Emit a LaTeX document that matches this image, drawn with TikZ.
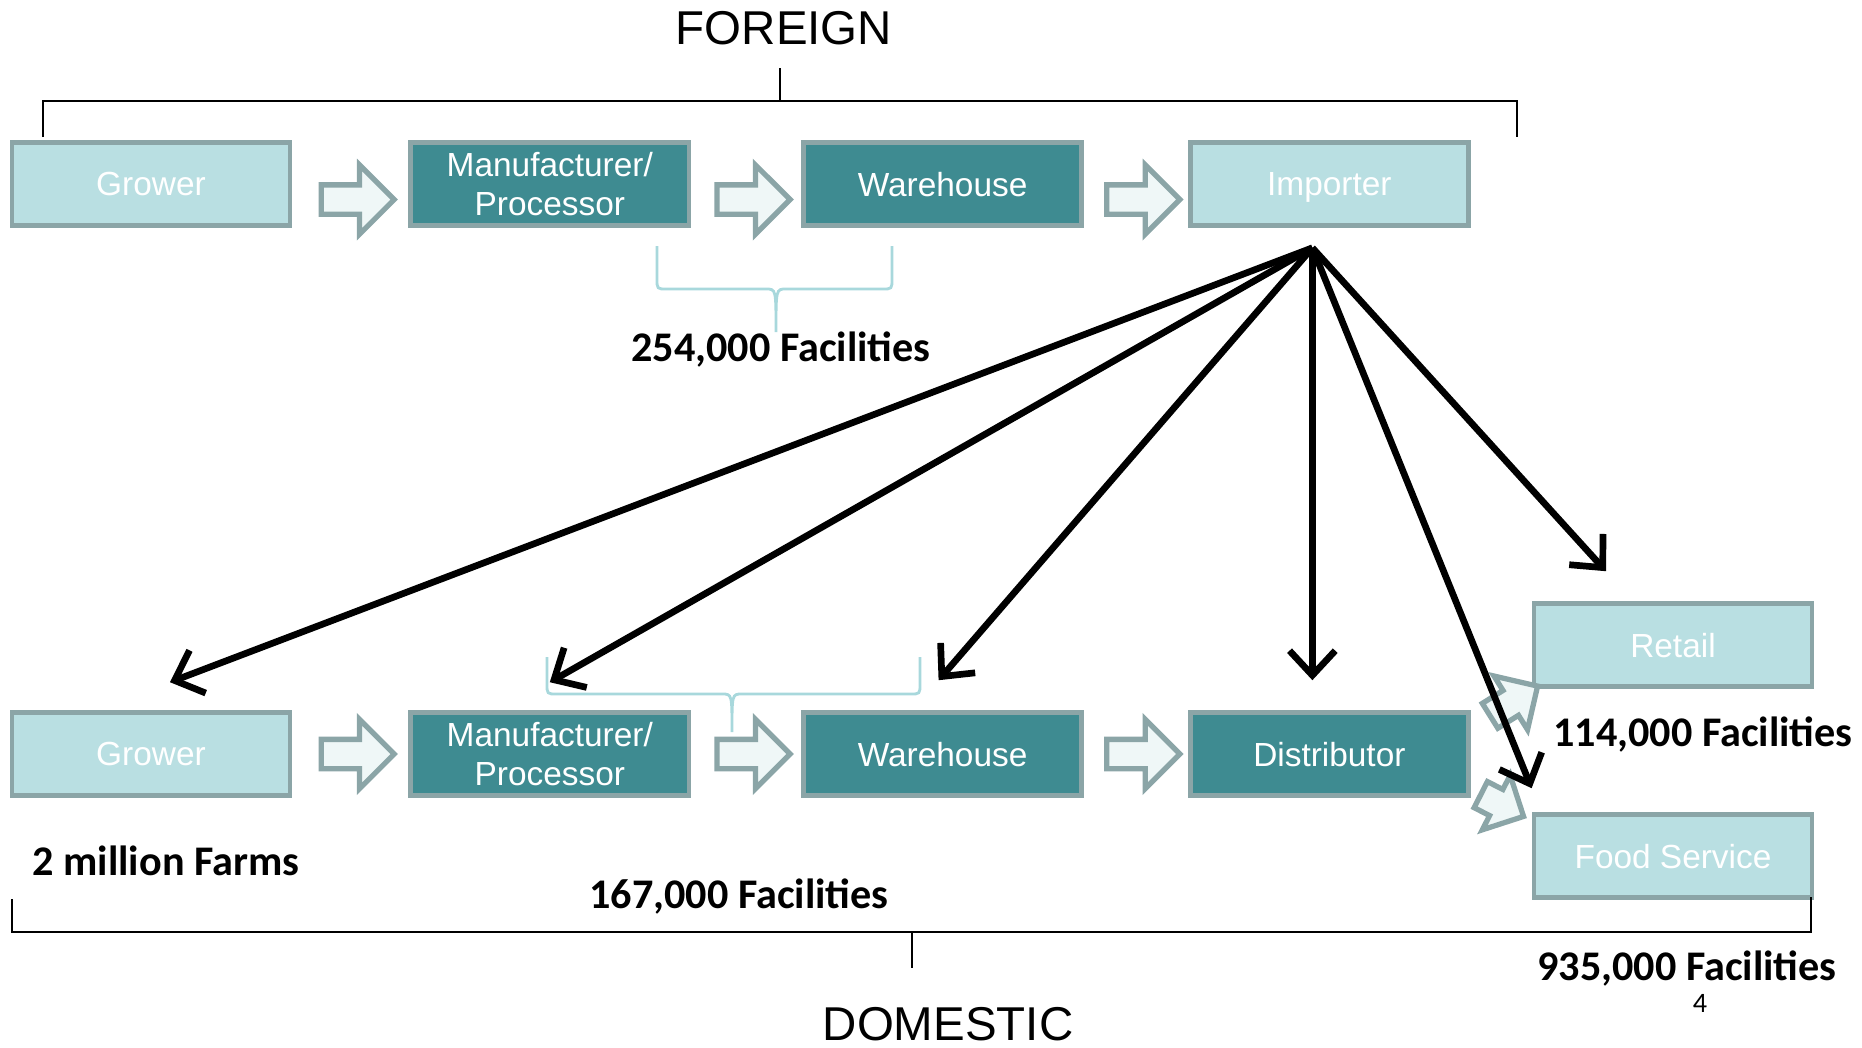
\documentclass[tikz,border=0pt]{standalone}
\usepackage{fontspec}
\setmainfont{Liberation Sans}
\newfontfamily\calibri{Carlito}
\usepackage{tikz}
\usetikzlibrary{arrows.meta,positioning,calc,shapes.arrows}
\definecolor{paleteal}{HTML}{B9DFE2}
\definecolor{deepteal}{HTML}{3E8B91}
\definecolor{rimgray}{HTML}{8BA5A7}
\definecolor{mist}{HTML}{EFF7F7}
\definecolor{bracecol}{HTML}{A8D8DC}
\tikzset{
  box/.style={rectangle, draw=rimgray, line width=1.3pt, minimum width=2.78cm, minimum height=0.83cm,
              align=center, text=white, inner sep=2pt, text depth=0pt, font=\fontsize{9.5}{11}\selectfont},
  lightbox/.style={box, fill=paleteal},
  darkbox/.style={box, fill=deepteal},
  hollow/.style={single arrow, draw=rimgray, fill=mist, line width=1.5pt, inner xsep=0pt, inner ysep=0.12cm,
                 minimum height=0.73cm, minimum width=0.66cm, single arrow head extend=0.2cm},
  feed/.style={-{Straight Barb[length=7pt,width=13pt]}, draw=black, line width=1.9pt},
  bracket/.style={draw=black, line width=0.6pt},
  curly/.style={draw=bracecol, line width=0.8pt},
  count/.style={font=\calibri\bfseries\fontsize{12}{14}\selectfont},
  side/.style={font=\fontsize{13.5}{16}\selectfont, inner sep=1pt},
}

\begin{document}
\begin{tikzpicture}[x=0.01cm, y=-0.01cm]
\useasboundingbox (0,0) rectangle (1862,1047);

\node[side] (foreign) at (784,28) {FOREIGN};
\draw[bracket] (43,137) -- (43,101) -- (1517,101) -- (1517,137);
\draw[bracket] (780,101) -- (780,68);

\node[lightbox] (grow1) at (151,184) {Grower};
\node[darkbox, right=1.16cm of grow1] (manu1) {Manufacturer/\\Processor};
\node[darkbox, right=1.1cm of manu1] (ware1) {Warehouse};
\node[lightbox, right=1.04cm of ware1] (imp) {Importer};
\node[hollow, yshift=-0.155cm] (h1) at ($(grow1.east)!0.5!(manu1.west)$) {};
\node[hollow, yshift=-0.155cm] (h2) at ($(manu1.east)!0.5!(ware1.west)$) {};
\node[hollow, yshift=-0.155cm] (h3) at ($(ware1.east)!0.5!(imp.west)$) {};

\draw[curly] (657,246) -- (657,279) .. controls (657,289) .. (667,289) -- (766,289)
  .. controls (776,289) .. (776,332) .. controls (776,289) .. (786,289) -- (882,289)
  .. controls (892,289) .. (892,279) -- (892,246);
\node[count] (fac254) at (781,350) {254,000 Facilities};

\node[lightbox] (grow2) at (151,754) {Grower};
\node[darkbox, right=1.16cm of grow2] (manu2) {Manufacturer/\\Processor};
\node[darkbox, right=1.1cm of manu2] (ware2) {Warehouse};
\node[darkbox, right=1.04cm of ware2] (dist) {Distributor};
\node[lightbox] (retail) at (1673,645) {Retail};
\node[lightbox] (food) at (1673,856) {Food Service};
\node[hollow] (h4) at ($(grow2.east)!0.5!(manu2.west)$) {};
\node[hollow] (h5) at ($(manu2.east)!0.5!(ware2.west)$) {};
\node[hollow] (h6) at ($(ware2.east)!0.5!(dist.west)$) {};
\node[hollow, minimum height=0.56cm, minimum width=0.58cm, single arrow head extend=0.17cm, rotate=32]
  (h7) at ($(retail.south west)+(-24,16)$) {};
\node[hollow, minimum height=0.48cm, minimum width=0.55cm, single arrow head extend=0.16cm, rotate=-27]
  (h8) at ($(food.north west)+(-36,-10)$) {};

\draw[curly] (547,657) -- (547,684) .. controls (547,694) .. (557,694) -- (722,694)
  .. controls (732,694) .. (732,732) .. controls (732,694) .. (742,694) -- (910,694)
  .. controls (920,694) .. (920,684) -- (920,657);

\coordinate (hub) at ($(imp.south)+(-17,20)$);
\draw[feed] (hub) -- ($(grow2.north)+(19,-28)$);
\draw[feed] (hub) -- ($(manu2.north)+(0,-28)$);
\draw[feed] (hub) -- ($(ware2.north)+(-4,-30)$);
\draw[feed] (hub) -- ($(dist.north)+(-17,-30)$);
\draw[feed] (hub) -- ($(food.north west)+(0,-24)$);
\draw[feed] (hub) -- ($(retail.north)+(-67,-30)$);

\node[count] (farms) at (166,861) {2 million Farms};
\node[count] (fac167) at (739,897) {167,000 Facilities};
\node[count] (fac114) at (1703,734) {114,000 Facilities};
\draw[bracket] (12,899) -- (12,932) -- (1811,932) -- (1811,897);
\draw[bracket] (912,932) -- (912,968);
\node[count] (fac935) at (1687,968) {935,000 Facilities};
\node[font=\calibri\fontsize{8}{9}\selectfont] (pg) at (1700,1003) {4};
\node[side] (domestic) at (948,1024) {DOMESTIC};
\end{tikzpicture}
\end{document}
